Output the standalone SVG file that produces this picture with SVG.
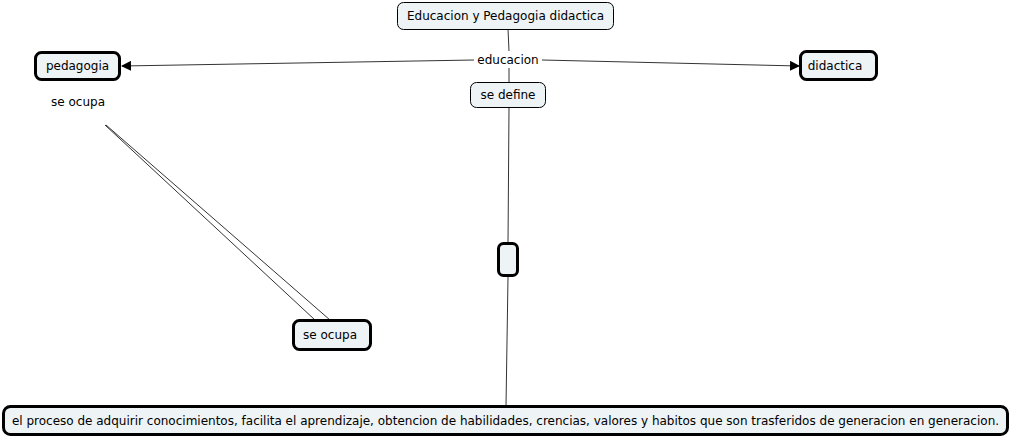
<svg xmlns="http://www.w3.org/2000/svg" width="1010" height="440" viewBox="0 0 1010 440">
<defs>
<marker id="arr" markerWidth="10" markerHeight="10" refX="9" refY="5" orient="auto" markerUnits="userSpaceOnUse">
<path d="M0,0 L10,5 L0,10 Z" fill="#000"/>
</marker>
<style>
.t{font-family:"DejaVu Sans",Verdana,sans-serif;font-size:12px;fill:#000}
.thin{fill:#eef3f5;stroke:#000;stroke-width:1}
.thick{fill:#eef3f5;stroke:#000;stroke-width:3}
.c{fill:none;stroke:#333;stroke-width:1}
</style>
</defs>
<rect width="1010" height="440" fill="#fff"/>
<g id="connectors">
<line class="c" x1="508" y1="29" x2="509" y2="51"/>
<line class="c" x1="509" y1="68" x2="509" y2="82"/>
<line class="c" x1="474" y1="60" x2="122" y2="66" marker-end="url(#arr)"/>
<line class="c" x1="542" y1="60" x2="799" y2="66" marker-end="url(#arr)"/>
<line class="c" x1="509" y1="107" x2="508" y2="243"/>
<line class="c" x1="508" y1="277" x2="506" y2="406"/>
<line class="c" x1="105" y1="125" x2="315" y2="320"/>
<line class="c" x1="106" y1="125" x2="330" y2="320"/>
</g>
<g id="n-top">
<rect class="thin" x="397.5" y="2.5" width="216" height="27" rx="6"/>
<text class="t" x="505.5" y="20" text-anchor="middle">Educacion y Pedagogia didactica</text>
</g>
<g id="l-educacion">
<rect x="474" y="51" width="68" height="17" fill="#fff"/>
<text class="t" x="508" y="64" text-anchor="middle">educacion</text>
</g>
<g id="n-sedefine">
<rect class="thin" x="470.5" y="82.5" width="75" height="25" rx="6"/>
<text class="t" x="508" y="99" text-anchor="middle">se define</text>
</g>
<g id="n-pedagogia">
<rect class="thick" x="35.5" y="52.5" width="84" height="27" rx="6"/>
<text class="t" x="77.5" y="70" text-anchor="middle">pedagogia</text>
</g>
<g id="l-seocupa">
<text class="t" x="78" y="106" text-anchor="middle">se ocupa</text>
</g>
<g id="n-didactica">
<rect class="thick" x="800.5" y="51.5" width="76" height="28" rx="6"/>
<text class="t" x="835" y="70" text-anchor="middle">didactica</text>
</g>
<g id="n-empty">
<rect class="thick" x="498.5" y="243.5" width="19" height="32" rx="5"/>
</g>
<g id="n-seocupa">
<rect class="thick" x="293.5" y="320.5" width="77" height="29" rx="6"/>
<text class="t" x="330" y="339" text-anchor="middle">se ocupa</text>
</g>
<g id="n-bottom">
<rect class="thick" x="3.5" y="406.5" width="1004" height="28" rx="7"/>
<text class="t" x="505.5" y="425" text-anchor="middle">el proceso de adquirir conocimientos, facilita el aprendizaje, obtencion de habilidades, crencias, valores y habitos que son trasferidos de generacion en generacion.</text>
</g>
</svg>
